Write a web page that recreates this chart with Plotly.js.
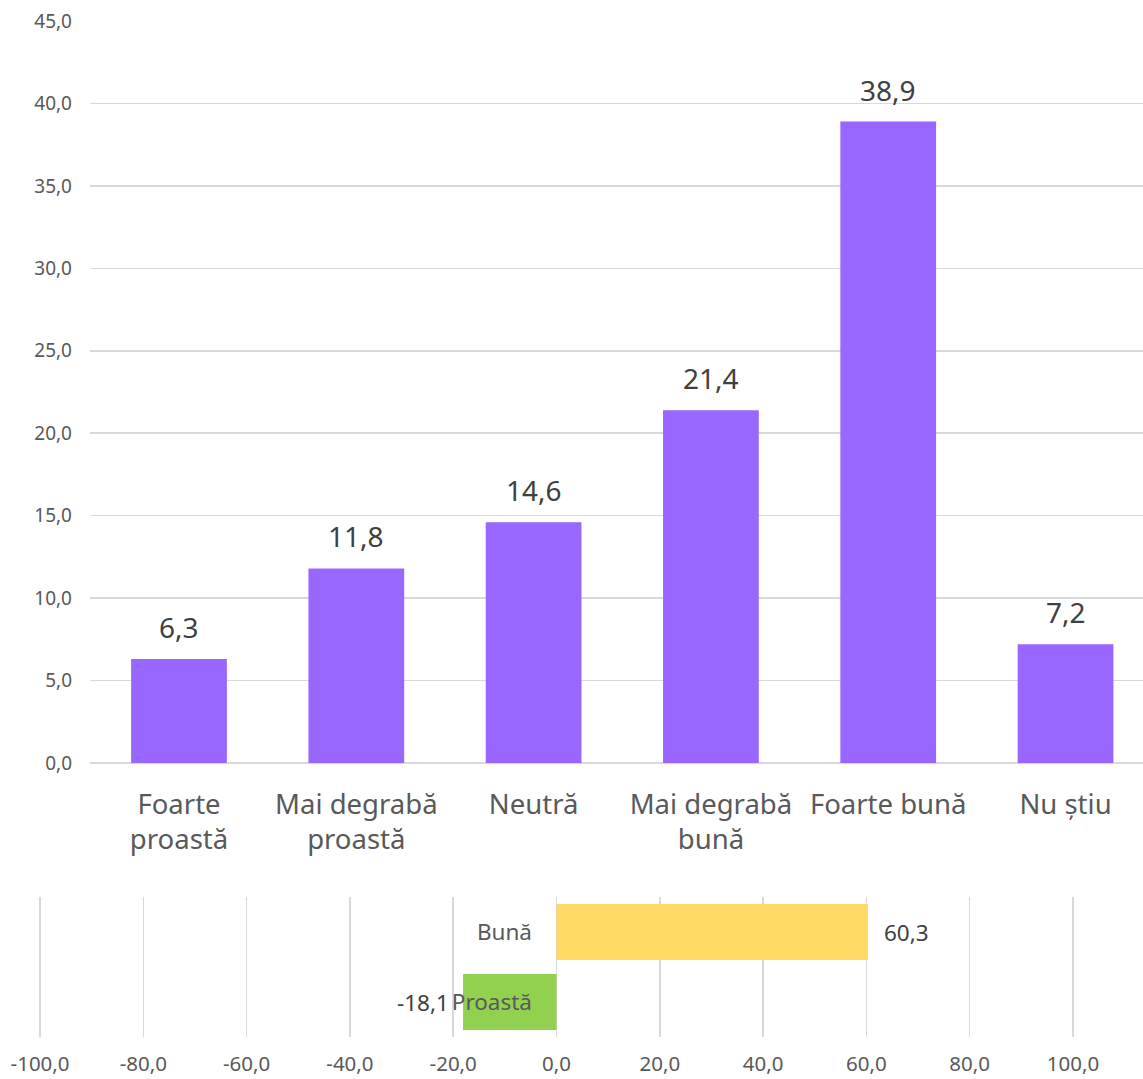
<!DOCTYPE html>
<html>
<head>
<meta charset="utf-8">
<script src="https://cdn.plot.ly/plotly-3.0.1.min.js"></script>
<style>html,body{margin:0;padding:0;background:#fff;}#chart{width:1143px;height:1079px;}</style>
</head>
<body>
<div id="chart"></div>
<script>
// ---- data ----
const categories = ["Foarte proastă", "Mai degrabă proastă", "Neutră", "Mai degrabă bună", "Foarte bună", "Nu știu"];
const categoryLabels = ["Foarte<br>proastă", "Mai degrabă<br>proastă", "Neutră", "Mai degrabă<br>bună", "Foarte bună", "Nu știu"];
const percentages = [6.3, 11.8, 14.6, 21.4, 38.9, 7.2];

const summaryCategories = ["Proastă", "Bună"];
const summaryValues = [-18.1, 60.3];
const summaryTicks = [-100, -80, -60, -40, -20, 0, 20, 40, 60, 80, 100];

// ---- styles ----
const FONT = "Noto Sans, sans-serif";
const TICK = "#595959";
const LABEL = "#404040";
const GRID = "#d9d9d9";
const summaryColors = ["#92D050", "#FFD966"];
const fmt = v => v.toFixed(1).replace(".", ",");

const W = 1143, H = 1079;
const px = x => x / W;
const py = y => 1 - y / H;

const traces = [
  {
    type: "bar", x: categories, y: percentages,
    xaxis: "x", yaxis: "y",
    marker: {color: "#9966FF"}, width: 0.54,
    hoverinfo: "x+y"
  },
  {
    type: "bar", orientation: "h", x: summaryValues, y: summaryCategories,
    xaxis: "x2", yaxis: "y2",
    marker: {color: summaryColors}, width: 0.8,
    hoverinfo: "x+y"
  }
];

const annotations = [];
categories.forEach((c, i) => {
  annotations.push({
    x: c, y: percentages[i], xref: "x", yref: "y",
    text: fmt(percentages[i]), showarrow: false,
    yanchor: "bottom", yshift: 11,
    font: {family: FONT, size: 28, color: LABEL}
  });
});
summaryCategories.forEach((c, i) => {
  const v = summaryValues[i];
  annotations.push({
    x: v, y: c, xref: "x2", yref: "y2",
    text: fmt(v), showarrow: false,
    xanchor: v >= 0 ? "left" : "right", xshift: v >= 0 ? 14 : -12,
    font: {family: FONT, size: 22.5, color: LABEL}
  });
});

const layout = {
  width: W, height: H,
  margin: {l: 0, r: 0, t: 0, b: 0},
  paper_bgcolor: "#fff", plot_bgcolor: "rgba(0,0,0,0)",
  showlegend: false,
  separators: ", ",
  font: {family: FONT, color: TICK},
  xaxis: {
    domain: [px(90), 1], anchor: "y",
    type: "category", range: [-0.502, 5.437],
    tickmode: "array", tickvals: categories, ticktext: categoryLabels,
    showgrid: false, zeroline: false, showline: false, ticks: "",
    ticklabelstandoff: 22,
    tickfont: {family: FONT, size: 27.5, color: TICK}
  },
  yaxis: {
    domain: [py(763), py(21)], anchor: "x",
    range: [0, 45], dtick: 5, tickformat: ".1f",
    showgrid: true, gridcolor: GRID, gridwidth: 1.5,
    zeroline: true, zerolinecolor: GRID, zerolinewidth: 1.5,
    showline: false, ticks: "",
    ticklabelstandoff: 17,
    tickfont: {family: FONT, size: 19, color: TICK}
  },
  xaxis2: {
    domain: [px(38), px(1075)], anchor: "y2",
    range: [-100.4, 100.4],
    tickmode: "array", tickvals: summaryTicks, ticktext: summaryTicks.map(fmt),
    showgrid: true, gridcolor: GRID, gridwidth: 1.5,
    zeroline: true, zerolinecolor: GRID, zerolinewidth: 1.5,
    showline: false, ticks: "",
    ticklabelstandoff: 12,
    tickfont: {family: FONT, size: 20.5, color: TICK}
  },
  yaxis2: {
    domain: [py(1037), py(897)], anchor: "free", position: px(556),
    type: "category", range: [-0.5, 1.5],
    showgrid: false, zeroline: false, showline: false, ticks: "",
    ticklabelstandoff: 24,
    tickfont: {family: FONT, size: 22.5, color: TICK}
  },
  annotations: annotations
};

Plotly.newPlot("chart", traces, layout, {displayModeBar: false, staticPlot: true});
</script>
</body>
</html>
